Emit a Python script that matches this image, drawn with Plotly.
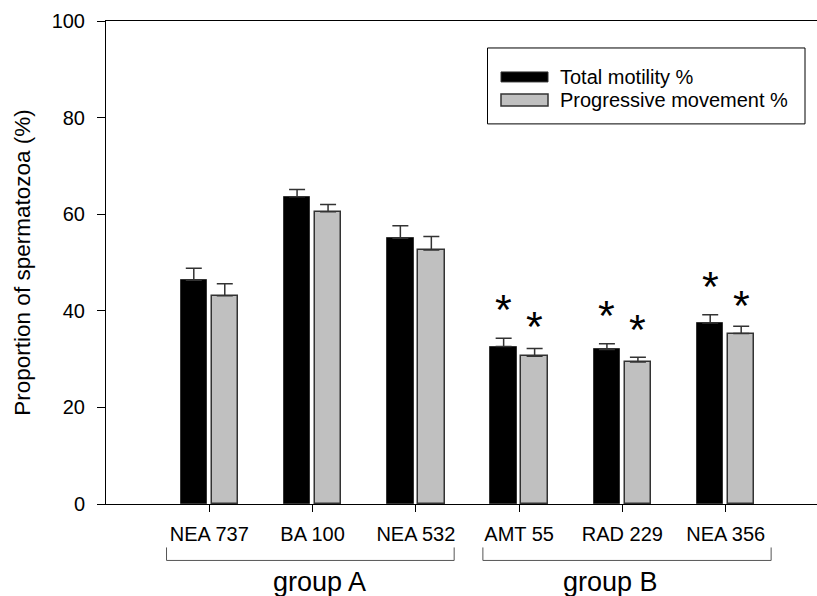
import plotly.graph_objects as go

categories = ["NEA 737", "BA 100", "NEA 532", "AMT 55", "RAD 229", "NEA 356"]
total_motility = [46.3, 63.6, 55.0, 32.6, 32.0, 37.5]
total_err = [2.5, 1.5, 2.6, 1.7, 1.2, 1.7]
progressive = [43.1, 60.5, 52.6, 30.6, 29.4, 35.3]
progressive_err = [2.5, 1.5, 2.8, 1.6, 1.0, 1.5]
star_total_y = [None, None, None, 42.4, 41.1, 47.3]
star_prog_y = [None, None, None, 39.0, 38.2, 43.3]
groups = ["group A", "group B"]
series_names = ["Total motility %", "Progressive movement %"]

W, H = 817, 596
L, T, B, R = 106, 21, 91.5, 0
PW, PH = W - L - R, H - T - B
FONT = "Arial, Liberation Sans, sans-serif"

def px(xp):
    return (xp - L) / PW

def py(yp):
    return (H - B - yp) / PH

xs = list(range(len(categories)))
bw = 0.255
gap = 0.045

fig = go.Figure()
fig.add_trace(go.Bar(
    x=xs, y=total_motility, width=bw, offset=-(bw + gap / 2),
    marker=dict(color="#000000", line=dict(color="#333333", width=1)),
    error_y=dict(type="data", array=total_err, arrayminus=[0] * 6, symmetric=False,
                 color="#333333", thickness=1.5, width=8),
    name=series_names[0], showlegend=False,
))
fig.add_trace(go.Bar(
    x=xs, y=progressive, width=bw, offset=gap / 2,
    marker=dict(color="#c0c0c0", line=dict(color="#333333", width=1.5)),
    error_y=dict(type="data", array=progressive_err, arrayminus=[0] * 6, symmetric=False,
                 color="#333333", thickness=1.5, width=8),
    name=series_names[1], showlegend=False,
))

annotations = []
for i, (a, b) in enumerate(zip(star_total_y, star_prog_y)):
    for val, off in ((a, -(bw + gap) / 2), (b, (bw + gap) / 2)):
        if val is not None:
            annotations.append(dict(x=i + off, y=val, xref="x", yref="y", text="*",
                                    showarrow=False, xanchor="center", yanchor="middle",
                                    yshift=-10,
                                    font=dict(family=FONT, size=43, color="#000000")))

# group brackets
shapes = []
brackets = [(-0.414, 2.371), (2.649, 5.44)]
y_h = py(561)
y_t = py(548)
for (x0, x1) in brackets:
    shapes.append(dict(type="path", xref="x", yref="paper",
                       path=f"M {x0},{y_t} L {x0},{y_h} L {x1},{y_h} L {x1},{y_t}",
                       line=dict(color="#555555", width=1)))
group_x = [1.07, 3.88]
for gx, g in zip(group_x, groups):
    annotations.append(dict(x=gx, y=py(600), xref="x", yref="paper", text=g,
                            showarrow=False, xanchor="center", yanchor="bottom",
                            font=dict(family=FONT, size=27, color="#000000")))

# legend (manual)
shapes.append(dict(type="rect", xref="paper", yref="paper",
                   x0=px(487.5), x1=px(805), y0=py(48), y1=py(124),
                   line=dict(color="#000000", width=1), fillcolor="white", layer="below"))
shapes.append(dict(type="rect", xref="paper", yref="paper",
                   x0=px(501), x1=px(548), y0=py(72), y1=py(82),
                   line=dict(color="#333333", width=1), fillcolor="#000000"))
shapes.append(dict(type="rect", xref="paper", yref="paper",
                   x0=px(501), x1=px(548), y0=py(94), y1=py(106),
                   line=dict(color="#333333", width=1.5), fillcolor="#c0c0c0"))
for name, yc in zip(series_names, [77, 100.5]):
    annotations.append(dict(x=px(558), y=py(yc), xref="paper", yref="paper", text=name,
                            showarrow=False, xanchor="left", yanchor="middle",
                            font=dict(family=FONT, size=20, color="#000000")))

fig.update_layout(
    width=W, height=H,
    margin=dict(l=L, r=R, t=T, b=B, pad=0),
    paper_bgcolor="white", plot_bgcolor="white",
    font=dict(family=FONT, size=20, color="#000000"),
    bargap=0, showlegend=False,
    shapes=shapes, annotations=annotations,
)
fig.update_xaxes(
    range=[-1.0, 5.884], tickmode="array", tickvals=xs, ticktext=categories,
    showline=True, linecolor="#000000", linewidth=1, mirror=True,
    ticks="outside", ticklen=7, tickcolor="#000000", tickwidth=1,
    showgrid=False, zeroline=False, ticklabelstandoff=5,
    tickfont=dict(family=FONT, size=20, color="#000000"),
)
fig.update_yaxes(
    range=[0, 100], tickvals=[0, 20, 40, 60, 80, 100],
    showline=True, linecolor="#000000", linewidth=1,
    ticks="outside", ticklen=8, tickcolor="#000000", tickwidth=1,
    showgrid=False, zeroline=False, ticklabelstandoff=8,
    tickfont=dict(family=FONT, size=20, color="#000000"),
    title=dict(text="Proportion of spermatozoa (%)", standoff=14,
               font=dict(family=FONT, size=22.5, color="#000000")),
)

fig.write_html("out.html")
